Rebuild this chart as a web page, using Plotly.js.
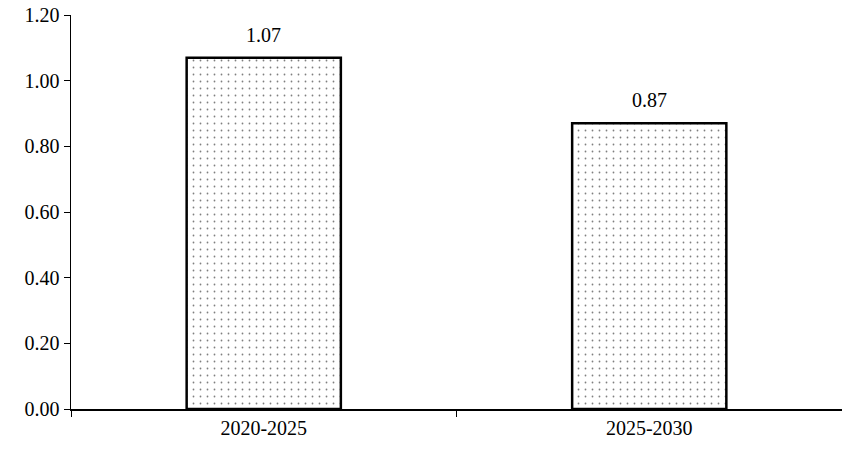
<!DOCTYPE html>
<html>
<head>
<meta charset="utf-8">
<script src="https://cdn.plot.ly/plotly-3.0.1.min.js"></script>
<style>html,body{margin:0;padding:0;background:#fff;}#chart{width:842px;height:450px;}</style>
</head>
<body>
<div id="chart"></div>
<script>
const categories = ["2020-2025", "2025-2030"];
const values = [1.07, 0.87];
const valueLabels = ["1.07", "0.87"];
const yTickVals = [0, 0.2, 0.4, 0.6, 0.8, 1.0, 1.2];

const FONT = 'Liberation Serif, Times New Roman, serif';

const trace = {
  type: 'bar',
  x: categories,
  y: values,
  width: 0.4,
  marker: {
    color: '#ffffff',
    line: {color: '#000000', width: 2.5},
    pattern: {shape: '.', size: 7, solidity: 0.05, fgcolor: '#000000', bgcolor: '#ffffff', fillmode: 'overlay'}
  },
  hoverinfo: 'none'
};

const annotations = categories.map((c, i) => ({
  x: c, y: values[i], xref: 'x', yref: 'y',
  text: valueLabels[i], showarrow: false,
  yanchor: 'bottom', yshift: 10,
  font: {family: FONT, size: 20, color: '#000'}
}));

const layout = {
  width: 842, height: 450,
  margin: {l: 71, r: 0, t: 15, b: 41, pad: 0},
  paper_bgcolor: '#ffffff', plot_bgcolor: '#ffffff',
  showlegend: false,
  font: {family: FONT, size: 20, color: '#000'},
  annotations: annotations,
  xaxis: {
    type: 'category',
    range: [-0.5, 1.5],
    showline: true, linecolor: '#000', linewidth: 1.5,
    ticks: 'outside', ticklen: 6, tickcolor: '#000', tickwidth: 1,
    tickson: 'boundaries',
    showgrid: false, zeroline: false,
    tickfont: {size: 20}
  },
  yaxis: {
    range: [0, 1.2],
    tickvals: yTickVals,
    tickformat: '.2f',
    showline: true, linecolor: '#000', linewidth: 1.5,
    ticks: 'outside', ticklen: 6, tickcolor: '#000', tickwidth: 1,
    showgrid: false, zeroline: false,
    tickfont: {size: 20}
  }
};

Plotly.newPlot('chart', [trace], layout, {displayModeBar: false, staticPlot: true});
</script>
</body>
</html>
